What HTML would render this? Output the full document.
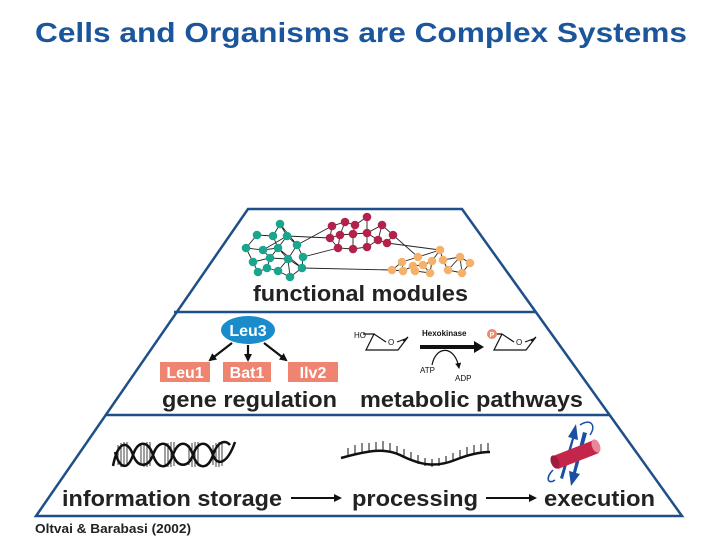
<!DOCTYPE html>
<html><head><meta charset="utf-8"><style>
html,body{margin:0;padding:0;background:#fff;}
svg{display:block;font-family:"Liberation Sans",sans-serif;}
</style></head><body>
<svg width="720" height="540" viewBox="0 0 720 540" xmlns="http://www.w3.org/2000/svg">
<defs>
<marker id="ah" markerWidth="8" markerHeight="8" refX="6" refY="4" orient="auto" markerUnits="userSpaceOnUse"><path d="M0,0 L8,4 L0,8 z" fill="#111"/></marker>
<marker id="ahs" markerWidth="6" markerHeight="6" refX="5" refY="3" orient="auto" markerUnits="userSpaceOnUse"><path d="M0,0 L6,3 L0,6 z" fill="#111"/></marker>
</defs>
<text x="35" y="42" font-size="28" font-weight="bold" fill="#1b559b" textLength="652" lengthAdjust="spacingAndGlyphs">Cells and Organisms are Complex Systems</text>

<!-- trapezoid -->
<polygon points="248,209 462,209 682,516 36,516" fill="none" stroke="#1f4f88" stroke-width="2.5"/>
<line x1="174" y1="312" x2="536" y2="312" stroke="#1f4f88" stroke-width="2.5"/>
<line x1="105" y1="415" x2="609" y2="415" stroke="#1f4f88" stroke-width="2.5"/>

<!-- network edges -->
<g stroke="#222" stroke-width="0.9" fill="none">
<path d="M280,224 L273,236 L257,235 L246,248 L263,250 L278,248 L287,236 L280,224 M273,236 L278,248 L270,258 L253,262 L246,248 M263,250 L270,258 L267,268 L258,272 L253,262 M278,248 L288,259 L278,271 L267,268 M287,236 L297,245 L303,257 L302,268 L290,277 L278,271 M297,245 L288,259 L302,268 M280,224 L297,245 M270,258 L288,259 M263,250 L287,236 M278,248 L302,268 M288,259 L290,277"/>
<path d="M367,217 L355,225 L345,222 L332,226 L330,238 L340,235 L353,234 L367,233 L382,225 L393,235 L387,243 L378,240 L367,247 L353,249 L338,248 L330,238 M345,222 L340,235 M355,225 L353,234 M367,217 L367,233 M382,225 L378,240 M367,233 L378,240 M353,234 L353,249 M340,235 L338,248 M367,233 L367,247"/>
<path d="M440,250 L418,257 L402,262 L392,270 L403,271 L413,266 L423,265 L432,261 L440,250 L443,260 L460,257 L470,263 L462,273 L448,270 L443,260 M413,266 L415,271 L430,273 L423,265 M402,262 L403,271 M432,261 L430,273 M448,270 L460,257 M460,257 L462,273"/>
<path d="M287,236 L330,238 M297,245 L332,226 M302,268 L392,270 M387,243 L440,250 M393,235 L418,257 M303,257 L338,248"/>
</g>
<g fill="#1aa58e">
<circle cx="280" cy="224" r="4.3"/><circle cx="257" cy="235" r="4.3"/><circle cx="273" cy="236" r="4.3"/><circle cx="287" cy="236" r="4.3"/><circle cx="246" cy="248" r="4.3"/><circle cx="263" cy="250" r="4.3"/><circle cx="278" cy="248" r="4.3"/><circle cx="297" cy="245" r="4.3"/><circle cx="270" cy="258" r="4.3"/><circle cx="288" cy="259" r="4.3"/><circle cx="303" cy="257" r="4.3"/><circle cx="253" cy="262" r="4.3"/><circle cx="267" cy="268" r="4.3"/><circle cx="278" cy="271" r="4.3"/><circle cx="302" cy="268" r="4.3"/><circle cx="258" cy="272" r="4.3"/><circle cx="290" cy="277" r="4.3"/>
</g>
<g fill="#b3224a">
<circle cx="367" cy="217" r="4.3"/><circle cx="345" cy="222" r="4.3"/><circle cx="355" cy="225" r="4.3"/><circle cx="332" cy="226" r="4.3"/><circle cx="382" cy="225" r="4.3"/><circle cx="340" cy="235" r="4.3"/><circle cx="353" cy="234" r="4.3"/><circle cx="367" cy="233" r="4.3"/><circle cx="393" cy="235" r="4.3"/><circle cx="330" cy="238" r="4.3"/><circle cx="378" cy="240" r="4.3"/><circle cx="387" cy="243" r="4.3"/><circle cx="338" cy="248" r="4.3"/><circle cx="353" cy="249" r="4.3"/><circle cx="367" cy="247" r="4.3"/>
</g>
<g fill="#f5b06a">
<circle cx="440" cy="250" r="4.3"/><circle cx="418" cy="257" r="4.3"/><circle cx="432" cy="261" r="4.3"/><circle cx="443" cy="260" r="4.3"/><circle cx="460" cy="257" r="4.3"/><circle cx="402" cy="262" r="4.3"/><circle cx="413" cy="266" r="4.3"/><circle cx="423" cy="265" r="4.3"/><circle cx="470" cy="263" r="4.3"/><circle cx="392" cy="270" r="4.3"/><circle cx="403" cy="271" r="4.3"/><circle cx="415" cy="271" r="4.3"/><circle cx="430" cy="273" r="4.3"/><circle cx="448" cy="270" r="4.3"/><circle cx="462" cy="273" r="4.3"/>
</g>
<text x="253" y="301" font-size="22" font-weight="bold" fill="#222" textLength="215" lengthAdjust="spacingAndGlyphs">functional modules</text>

<!-- gene regulation -->
<ellipse cx="248" cy="330" rx="27" ry="14" fill="#1a8ccc"/>
<text x="248" y="336" font-size="16" font-weight="bold" fill="#fff" text-anchor="middle">Leu3</text>
<g stroke="#111" stroke-width="2.2" fill="none">
<line x1="232" y1="343" x2="210" y2="360" marker-end="url(#ah)"/>
<line x1="248" y1="345" x2="248" y2="360" marker-end="url(#ah)"/>
<line x1="264" y1="343" x2="286" y2="360" marker-end="url(#ah)"/>
</g>
<g fill="#ef8470">
<rect x="160" y="362" width="50" height="20"/><rect x="223" y="362" width="48" height="20"/><rect x="288" y="362" width="50" height="20"/>
</g>
<g font-size="16" font-weight="bold" fill="#fff" text-anchor="middle">
<text x="185" y="378">Leu1</text><text x="247" y="378">Bat1</text><text x="313" y="378">Ilv2</text>
</g>
<text x="162" y="407" font-size="22" font-weight="bold" fill="#222" textLength="175" lengthAdjust="spacingAndGlyphs">gene regulation</text>

<!-- metabolic -->
<g stroke="#111" stroke-width="1.2" fill="none">
<path d="M363,334 L374,334 L366,350 L398,350 L408,337 L403,341 M374,334 L386,342 M397,342 L405,339"/>
<path d="M502,334 L493,334 M502,334 L494,350 L526,350 L536,337 L531,341 M502,334 L514,342 M525,342 L533,339"/>
<path d="M432,365 C436,345 455,345 459,368" marker-end="url(#ahs)"/>
</g>
<text x="354" y="338" font-size="8" fill="#111">HO</text>
<text x="388" y="345" font-size="8" fill="#111">O</text>
<text x="516" y="345" font-size="8" fill="#111">O</text>
<circle cx="492" cy="334" r="5" fill="#ec8a6e"/>
<text x="492" y="337" font-size="7" fill="#fff" text-anchor="middle" font-weight="bold">P</text>
<line x1="420" y1="347" x2="476" y2="347" stroke="#111" stroke-width="4"/>
<path d="M474,341 L484,347 L474,353 z" fill="#111"/>
<text x="422" y="336" font-size="8" font-weight="bold" fill="#111">Hexokinase</text>
<text x="420" y="373" font-size="8" fill="#111">ATP</text>
<text x="455" y="381" font-size="8" fill="#111">ADP</text>
<text x="360" y="407" font-size="22" font-weight="bold" fill="#222" textLength="223" lengthAdjust="spacingAndGlyphs">metabolic pathways</text>

<!-- DNA -->
<g stroke="#111" fill="none">
<g stroke-width="0.8">
<path d="M118,445 V465 M121,443 V467 M124,442 V467 M127,442 V466 M141,445 V465 M144,443 V467 M147,442 V467 M150,442 V466 M165,445 V465 M168,443 V467 M171,442 V467 M174,442 V466 M189,445 V465 M192,443 V467 M195,442 V467 M198,442 V466 M213,445 V465 M216,443 V467 M219,442 V467 M222,442 V466"/>
</g>
<path stroke-width="2.5" d="M113,466 C118,440 128,440 133,455 C138,468 148,468 153,455 C158,440 168,440 173,455 C178,468 188,468 193,455 C198,440 208,440 213,455 C218,468 228,462 235,442"/>
<path stroke-width="2.5" d="M115,452 C120,470 128,470 133,455 C138,440 148,440 153,455 C158,470 168,470 173,455 C178,440 188,440 193,455 C198,470 208,470 213,455 C218,440 226,440 230,445"/>
</g>

<!-- RNA -->
<g stroke="#111" fill="none">
<path stroke-width="2.5" d="M341,458 C370,450 385,448 400,455 C420,465 435,468 455,460 C470,454 480,452 490,452"/>
<path stroke-width="1" d="M348,456 V448 M355,454 V445 M362,452 V443 M369,451 V443 M376,450 V442 M383,450 V441 M390,452 V443 M397,454 V446 M404,457 V449 M411,461 V452 M418,464 V455 M425,466 V458 M432,467 V459 M439,466 V458 M446,464 V456 M453,461 V453 M460,458 V450 M467,455 V447 M474,453 V445 M481,452 V444 M488,452 V443"/>
</g>

<!-- protein -->
<g fill="none" stroke="#1b4fa3" stroke-width="1.5">
<path d="M553,470 C545,478 548,485 555,480"/>
<path d="M580,425 C590,418 597,425 590,435"/>
</g>
<g fill="#1b4fa3">
<path d="M560,478 L572,438 L568,437 L576,424 L578,440 L574,439 L563,479 z"/>
<path d="M583,432 L573,472 L569,471 L571,486 L580,474 L576,473 L587,433 z"/>
</g>
<path d="M553,456 L594,440 L599,453 L558,469 z" fill="#c4254a"/>
<ellipse cx="596" cy="446" rx="4" ry="7" transform="rotate(-22 596 446)" fill="#e6889a"/>
<ellipse cx="555" cy="462" rx="4" ry="7" transform="rotate(-22 555 462)" fill="#a01c3c"/>

<text x="62" y="506" font-size="22" font-weight="bold" fill="#222" textLength="220" lengthAdjust="spacingAndGlyphs">information storage</text>
<text x="352" y="506" font-size="22" font-weight="bold" fill="#222" textLength="126" lengthAdjust="spacingAndGlyphs">processing</text>
<text x="544" y="506" font-size="22" font-weight="bold" fill="#222" textLength="111" lengthAdjust="spacingAndGlyphs">execution</text>
<g stroke="#111" stroke-width="2">
<line x1="291" y1="498" x2="340" y2="498" marker-end="url(#ah)"/>
<line x1="486" y1="498" x2="535" y2="498" marker-end="url(#ah)"/>
</g>
<text x="35" y="533" font-size="13" font-weight="bold" fill="#222" textLength="156" lengthAdjust="spacingAndGlyphs">Oltvai &amp; Barabasi (2002)</text>
</svg>
</body></html>
